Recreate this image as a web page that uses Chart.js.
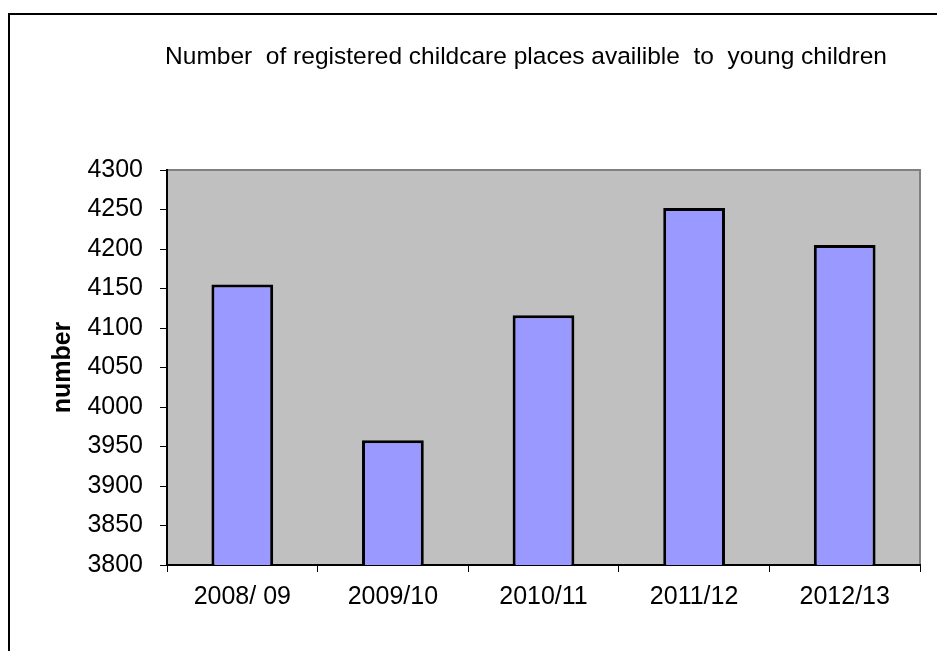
<!DOCTYPE html>
<html>
<head>
<meta charset="utf-8">
<script src="https://cdn.jsdelivr.net/npm/chart.js@4.4.1/dist/chart.umd.min.js"></script>
<style>
  html, body { margin: 0; padding: 0; background: #ffffff; }
  #wrap { position: relative; width: 937px; height: 651px; }
</style>
</head>
<body>
<div id="wrap"><canvas id="chart" width="937" height="651"></canvas></div>
<script>
// Registered childcare places by year
const years = ['2008/ 09', '2009/10', '2010/11', '2011/12', '2012/13'];
const places = [4155, 3958, 4116, 4252, 4205];
const yMin = 3800;
const yMax = 4300;
const yStep = 50;
const chartTitle = 'Number  of registered childcare places availible  to  young children';
const yAxisTitle = 'number';

const FONT = '"Liberation Sans", Arial, sans-serif';

// Grey plot background, grey outline, black page frame and the heading
const backdrop = {
  id: 'backdrop',
  beforeDraw(chart) {
    const { ctx, chartArea: a } = chart;
    ctx.save();
    ctx.fillStyle = '#000000';
    ctx.fillRect(8, 13, 2, chart.height);
    ctx.fillRect(8, 13, chart.width, 2);
    ctx.fillStyle = '#c0c0c0';
    ctx.fillRect(a.left, a.top, a.right - a.left, a.bottom - a.top);
    ctx.strokeStyle = '#808080';
    ctx.lineWidth = 2;
    ctx.strokeRect(a.left, a.top, a.right - a.left, a.bottom - a.top);
    ctx.fillStyle = '#000000';
    ctx.font = '24.5px ' + FONT;
    ctx.textAlign = 'center';
    ctx.textBaseline = 'alphabetic';
    ctx.fillText(chartTitle, 526, 64);
    ctx.restore();
  }
};

new Chart(document.getElementById('chart'), {
  type: 'bar',
  data: {
    labels: years,
    datasets: [{
      data: places,
      backgroundColor: '#9999ff',
      borderColor: '#000000',
      borderWidth: 3,
      barPercentage: 0.41,
      categoryPercentage: 1.0
    }]
  },
  options: {
    responsive: false,
    animation: false,
    layout: { padding: { left: 0, right: 17, top: 170, bottom: 0 } },
    plugins: {
      legend: { display: false },
      tooltip: { enabled: false },
      title: { display: false }
    },
    scales: {
      x: {
        afterFit(scale) { scale.height = 86; },
        grid: {
          offset: true,
          drawOnChartArea: false,
          drawTicks: true,
          tickLength: 7,
          color: '#000000',
          lineWidth: 1
        },
        border: { display: true, color: '#000000', width: 2 },
        ticks: {
          color: '#000000',
          padding: 10,
          font: { family: FONT, size: 25 }
        }
      },
      y: {
        min: yMin,
        max: yMax,
        afterFit(scale) { scale.width = 167; },
        grid: {
          drawOnChartArea: false,
          drawTicks: true,
          tickLength: 7,
          color: '#000000',
          lineWidth: 1
        },
        border: { display: true, color: '#000000', width: 2 },
        ticks: {
          stepSize: yStep,
          color: '#000000',
          padding: 17,
          font: { family: FONT, size: 25 },
          callback: (v) => String(v)
        },
        title: {
          display: true,
          text: yAxisTitle,
          color: '#000000',
          font: { family: FONT, size: 25, weight: 'bold' },
          padding: { top: 48, bottom: 0 }
        }
      }
    }
  },
  plugins: [backdrop]
});
</script>
</body>
</html>
